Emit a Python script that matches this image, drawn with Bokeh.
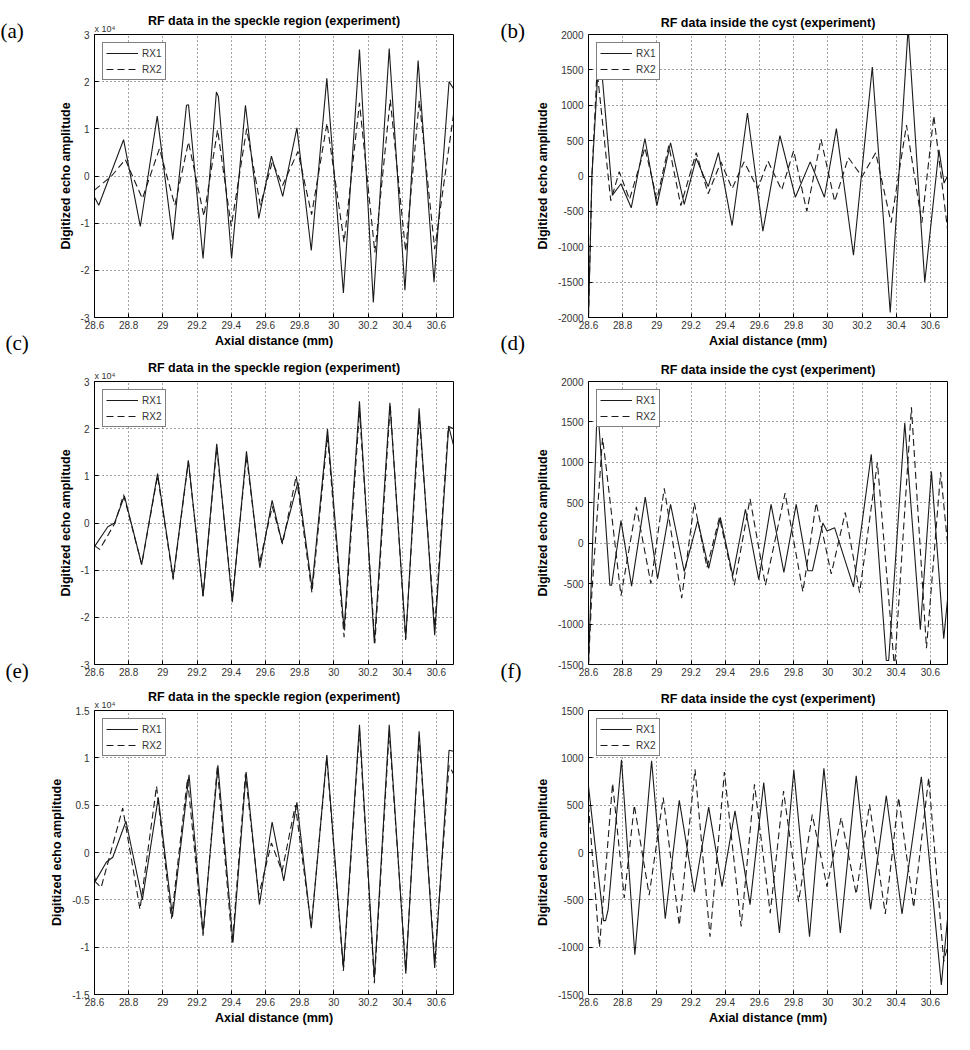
from bokeh.plotting import figure
from bokeh.models import (Title, FixedTicker, CustomJSTickFormatter, Range1d,
                          Legend, LegendItem)
from bokeh.core.properties import value
from bokeh.layouts import column, row
from bokeh.embed import file_html
from bokeh.resources import INLINE

# ---------------- data ----------------
x_ticks = [28.6, 28.8, 29.0, 29.2, 29.4, 29.6, 29.8, 30.0, 30.2, 30.4, 30.6]

# (a) speckle region, raw amplitude
a_rx1_x = [28.60, 28.625, 28.77, 28.868, 28.967, 29.058, 29.138, 29.15, 29.235, 29.313, 29.325,
           29.402, 29.483, 29.561, 29.635, 29.701, 29.784, 29.868, 29.959, 30.056, 30.15,
           30.231, 30.324, 30.416, 30.493, 30.586, 30.674, 30.70]
a_rx1_y = [-4500, -6200, 7700, -10700, 12700, -13500, 15000, 15100, -17500, 17800, 16800,
           -17500, 15000, -9000, 4200, -4300, 10200, -15800, 20700, -24800, 26800,
           -26800, 27000, -24200, 24500, -22500, 20000, 18500]
a_rx2_x = [28.60, 28.70, 28.78, 28.88, 28.98, 29.07, 29.15, 29.24, 29.32, 29.40, 29.49, 29.57,
           29.64, 29.70, 29.79, 29.87, 29.96, 30.06, 30.15, 30.24, 30.33, 30.42, 30.50, 30.59, 30.70]
a_rx2_y = [-3000, 0, 3500, -4800, 5800, -6200, 7200, -8500, 9800, -10700, 10000, -6200,
           3000, -2000, 5200, -8200, 11200, -14000, 15500, -16200, 16200, -16000, 16000, -15500, 13000]

# (b) inside the cyst
b_rx1_x = [28.60, 28.62, 28.664, 28.74, 28.79, 28.85, 28.93, 29.00, 29.08, 29.16, 29.23, 29.30,
           29.36, 29.44, 29.53, 29.62, 29.72, 29.81, 29.897, 29.98, 30.05, 30.15, 30.26,
           30.365, 30.47, 30.567, 30.65, 30.68, 30.70]
b_rx1_y = [-2000, 0, 1870, -270, -110, -450, 530, -420, 470, -400, 250, -150,
           330, -700, 890, -780, 570, -300, 200, -300, 670, -1120, 1540,
           -1930, 2100, -1500, 370, -100, 0]
b_rx2_x = [28.60, 28.62, 28.65, 28.73, 28.78, 28.84, 28.93, 29.00, 29.07, 29.14, 29.23, 29.30,
           29.375, 29.44, 29.51, 29.59, 29.65, 29.73, 29.80, 29.877, 29.96, 30.04, 30.12,
           30.20, 30.28, 30.37, 30.46, 30.55, 30.62, 30.70]
b_rx2_y = [-2000, 0, 1500, -350, 60, -330, 400, -330, 430, -420, 330, -250,
           200, -180, 200, -180, 210, -200, 360, -500, 520, -360, 260,
           -10, 330, -660, 720, -660, 850, -750]

# (c) speckle region
c_rx1_x = [28.60, 28.678, 28.717, 28.775, 28.876, 28.969, 29.06, 29.149, 29.235, 29.315, 29.406,
           29.489, 29.567, 29.639, 29.697, 29.79, 29.872, 29.963, 30.06, 30.15, 30.237,
           30.328, 30.421, 30.499, 30.59, 30.672, 30.70]
c_rx1_y = [-5000, -800, 0, 5700, -8800, 10500, -11600, 13300, -15500, 16800, -16800,
           15200, -9500, 4800, -4200, 8600, -13700, 19900, -22600, 25800, -25500,
           25500, -24500, 24300, -23800, 20500, 16500]
c_rx2_x = [28.60, 28.63, 28.72, 28.77, 28.876, 28.969, 29.06, 29.149, 29.235, 29.315, 29.406,
           29.489, 29.565, 29.64, 29.70, 29.78, 29.872, 29.963, 30.06, 30.15, 30.24,
           30.33, 30.42, 30.50, 30.59, 30.67, 30.70]
c_rx2_y = [-4800, -5600, 0, 6000, -8800, 10000, -12000, 13000, -15500, 16000, -16200,
           14200, -8500, 3500, -4500, 10000, -14800, 18500, -24200, 23800, -25500,
           25000, -24800, 22500, -22000, 20500, 20000]

# (d) inside the cyst
d_rx1_x = [28.60, 28.647, 28.66, 28.725, 28.735, 28.79, 28.852, 28.932, 29.004, 29.08, 29.16,
           29.239, 29.303, 29.371, 29.444, 29.518, 29.596, 29.668, 29.743, 29.815, 29.883,
           29.91, 29.971, 29.995, 30.04, 30.15, 30.254, 30.342, 30.356, 30.45, 30.541,
           30.606, 30.678, 30.70]
d_rx1_y = [-1500, 1450, 1500, -520, -520, 280, -530, 570, -440, 480, -350,
           280, -310, 320, -400, 420, -450, 480, -360, 480, -340,
           -340, 250, 150, 190, -540, 1100, -1450, -1450, 1490, -1070,
           890, -1180, -700]
d_rx2_x = [28.60, 28.62, 28.682, 28.70, 28.79, 28.88, 28.965, 29.043, 29.145, 29.219, 29.293,
           29.366, 29.453, 29.545, 29.635, 29.75, 29.854, 29.932, 30.02, 30.102, 30.186,
           30.29, 30.39, 30.489, 30.577, 30.66, 30.70]
d_rx2_y = [-1500, -600, 1300, 1000, -650, 450, -500, 680, -680, 500, -300,
           320, -520, 550, -520, 620, -600, 500, -380, 380, -610,
           1000, -1550, 1680, -1300, 880, 0]

# (e) speckle region
e_rx1_x = [28.60, 28.606, 28.67, 28.707, 28.784, 28.88, 28.973, 29.056, 29.153, 29.235, 29.322,
           29.41, 29.487, 29.565, 29.639, 29.707, 29.784, 29.868, 29.959, 30.056, 30.15,
           30.237, 30.324, 30.421, 30.499, 30.59, 30.674, 30.70]
e_rx1_y = [-2500, -3000, -1000, -500, 3300, -5000, 5800, -6800, 8200, -8500, 9200,
           -9500, 8500, -5500, 3200, -3000, 5300, -8000, 10300, -12200, 13500,
           -13300, 13500, -12800, 12800, -12200, 10800, 10700]
e_rx2_x = [28.60, 28.639, 28.765, 28.866, 28.963, 29.05, 29.144, 29.235, 29.318, 29.406,
           29.483, 29.561, 29.635, 29.697, 29.775, 29.868, 29.959, 30.056, 30.15, 30.237,
           30.324, 30.421, 30.499, 30.59, 30.674, 30.70]
e_rx2_y = [-3000, -3700, 4700, -6000, 7000, -7000, 7800, -8800, 9000, -9700,
           8300, -4500, 1000, -2000, 5000, -7800, 10000, -12500, 13000, -13800,
           12800, -12500, 12200, -11500, 9200, 8300]

# (f) inside the cyst
f_rx1_x = [28.60, 28.688, 28.70, 28.715, 28.793, 28.871, 28.969, 29.049, 29.131, 29.219,
           29.303, 29.381, 29.457, 29.545, 29.625, 29.717, 29.801, 29.893, 29.977, 30.073,
           30.166, 30.25, 30.342, 30.434, 30.547, 30.664, 30.70]
f_rx1_y = [700, -720, -720, -600, 980, -1080, 970, -700, 550, -420,
           480, -360, 440, -550, 740, -850, 870, -890, 890, -850,
           810, -600, 600, -650, 800, -1400, -700]
f_rx2_x = [28.60, 28.664, 28.741, 28.809, 28.868, 28.955, 29.037, 29.131, 29.223, 29.311,
           29.395, 29.493, 29.571, 29.663, 29.741, 29.829, 29.909, 29.995, 30.078, 30.166,
           30.244, 30.336, 30.414, 30.502, 30.59, 30.678, 30.70]
f_rx2_y = [500, -1000, 730, -480, 500, -450, 580, -770, 880, -890,
           850, -780, 720, -640, 650, -520, 400, -360, 370, -440,
           510, -650, 580, -580, 790, -1150, -1000]

speckle_ticks = [-30000, -20000, -10000, 0, 10000, 20000, 30000]
speckle_ticks_e = [-15000, -10000, -5000, 0, 5000, 10000, 15000]
cyst_ticks_b = [-2000, -1500, -1000, -500, 0, 500, 1000, 1500, 2000]
cyst_ticks_d = [-1500, -1000, -500, 0, 500, 1000, 1500, 2000]
cyst_ticks_f = [-1500, -1000, -500, 0, 500, 1000, 1500]

panel_letters_left = ["(a)", "(c)", "(e)"]
panel_letters_right = ["(b)", "(d)", "(f)"]

TITLE_SPECKLE = "RF data in the speckle region (experiment)"
TITLE_CYST = "RF data inside the cyst (experiment)"
YLABEL = "Digitized echo amplitude"
XLABEL = "Axial distance (mm)"
EXPONENT = "x 10\u2074"

SANS = "Liberation Sans"
SERIF = "Liberation Serif"
LINE_COL = "#1a1a1a"


def make_panel(title, x1, y1, x2, y2, yticks, scaled, width, height,
               bl, br, bt, bb, show_xlabel):
    ymin, ymax = yticks[0], yticks[-1]
    p = figure(width=width, height=height, output_backend="svg", toolbar_location=None,
               x_range=Range1d(28.6, 30.7), y_range=Range1d(ymin, ymax),
               min_border_left=bl, min_border_right=br,
               min_border_top=bt, min_border_bottom=bb)
    p.title.text = title
    p.title.align = "center"
    p.title.text_font = SANS
    p.title.text_font_size = "12.5px"
    p.title.text_font_style = "bold"
    p.title.text_color = "black"
    p.title.standoff = 10
    p.outline_line_color = "black"
    p.outline_line_width = 1
    p.outline_line_alpha = 1

    p.xaxis.ticker = FixedTicker(ticks=x_ticks)
    p.xaxis.formatter = CustomJSTickFormatter(code="return String(Math.round(tick*10)/10)")
    p.yaxis.ticker = FixedTicker(ticks=yticks)
    if scaled:
        p.yaxis.formatter = CustomJSTickFormatter(code="return String(Math.round(tick/1000)/10)")
    else:
        p.yaxis.formatter = CustomJSTickFormatter(code="return String(tick)")

    for ax in (p.xaxis[0], p.yaxis[0]):
        ax.axis_line_color = None
        ax.major_tick_in = 4
        ax.major_tick_out = 0
        ax.minor_tick_line_color = None
        ax.major_tick_line_color = "black"
        ax.major_label_text_font = SANS
        ax.major_label_text_font_size = "10px"
        ax.major_label_text_color = "#333333"
        ax.axis_label_text_font = SANS
        ax.axis_label_text_font_size = "12.5px"
        ax.axis_label_text_font_style = "bold"
        ax.axis_label_text_color = "black"
    p.xaxis.major_label_standoff = 3
    p.yaxis.major_label_standoff = 5
    p.xaxis.axis_label_standoff = 2
    p.yaxis.axis_label_standoff = 5
    if show_xlabel:
        p.xaxis.axis_label = XLABEL
    p.yaxis.axis_label = YLABEL

    for g in (p.xgrid[0], p.ygrid[0]):
        g.grid_line_color = "#333333"
        g.grid_line_dash = "1 3"
        g.grid_line_width = 1
        g.grid_line_alpha = 0.9

    r1 = p.line(x1, y1, line_color=LINE_COL, line_width=1.1)
    r2 = p.line(x2, y2, line_color=LINE_COL, line_width=1.1, line_dash="7 4")

    legend = Legend(items=[LegendItem(label="RX1", renderers=[r1]),
                           LegendItem(label="RX2", renderers=[r2])],
                    location="top_left", margin=8, padding=3, spacing=2,
                    label_height=14, glyph_width=32, glyph_height=12,
                    label_standoff=4, label_text_font=SANS,
                    label_text_font_size="10px", label_text_color="#333333",
                    border_line_color="black", border_line_width=1,
                    background_fill_color="white", background_fill_alpha=1)
    p.add_layout(legend)

    if scaled:
        # scale factor text right on top of the frame's left corner; the main
        # title is pulled down so that it sits level with the scale factor
        p.title.standoff = -14
        et = Title(text=EXPONENT, align="left", offset=0, standoff=2,
                   text_font=SANS, text_font_size="9px", text_font_style="normal",
                   text_color="#333333")
        p.above = [et] + [m for m in p.above]
    return p


def letter_column(width, height, letters, xs, ys):
    # narrow strip that carries the panel letters; y measured in px from the top
    q = figure(width=width, height=height, output_backend="svg", toolbar_location=None,
               x_range=Range1d(0, width), y_range=Range1d(height, 0),
               x_axis_type=None, y_axis_type=None, min_border=0)
    q.grid.visible = False
    q.outline_line_color = None
    q.text(x=xs, y=ys, text=letters, text_font=value(SERIF), text_font_size="21px",
           text_color="black", text_baseline="middle", text_align="left")
    return q


H1, H2, H3 = 354, 329, 347
HT = H1 + H2 + H3
LW, RW = 442, 425
LBL_L, LBL_R = 35, 50

pa = make_panel(TITLE_SPECKLE, a_rx1_x, a_rx1_y, a_rx2_x, a_rx2_y, speckle_ticks, True,
                LW, H1, 59, 24, 34, 37, True)
pb = make_panel(TITLE_CYST, b_rx1_x, b_rx1_y, b_rx2_x, b_rx2_y, cyst_ticks_b, False,
                RW, H1, 61, 5, 34, 37, True)
pc = make_panel(TITLE_SPECKLE, c_rx1_x, c_rx1_y, c_rx2_x, c_rx2_y, speckle_ticks, True,
                LW, H2, 59, 24, 27, 19, False)
pd = make_panel(TITLE_CYST, d_rx1_x, d_rx1_y, d_rx2_x, d_rx2_y, cyst_ticks_d, False,
                RW, H2, 61, 5, 27, 19, False)
pe = make_panel(TITLE_SPECKLE, e_rx1_x, e_rx1_y, e_rx2_x, e_rx2_y, speckle_ticks_e, True,
                LW, H3, 59, 24, 27, 36, True)
pf = make_panel(TITLE_CYST, f_rx1_x, f_rx1_y, f_rx2_x, f_rx2_y, cyst_ticks_f, False,
                RW, H3, 61, 5, 27, 36, True)

ql = letter_column(LBL_L, HT, panel_letters_left, [0, 5, 5], [30, 342, 670])
qr = letter_column(LBL_R, HT, panel_letters_right, [23, 23, 23], [30, 342, 670])

left = column(pa, pc, pe, spacing=0)
right = column(pb, pd, pf, spacing=0)
layout = row(ql, left, qr, right, spacing=0)

open("out.html", "w").write(file_html(layout, INLINE))
